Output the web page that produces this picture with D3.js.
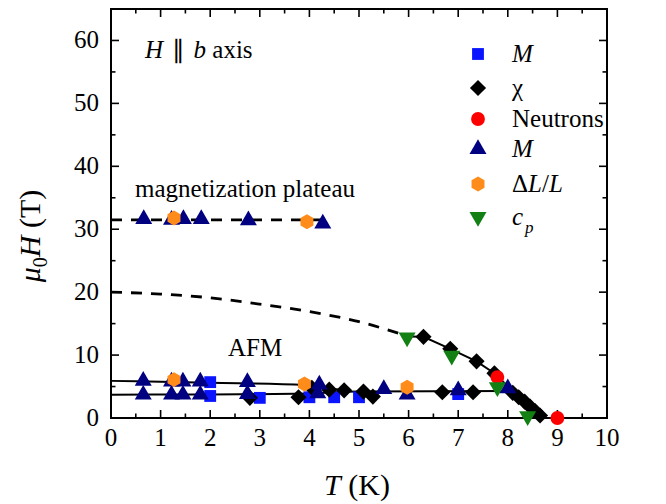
<!DOCTYPE html>
<html lang="en">
<head>
    <meta charset="UTF-8">
    <title>H || b phase diagram</title>
    <style>
        body { margin: 0; background: #fff; }
        svg text { font-family: "Liberation Serif", "Times New Roman", serif; fill: #000; }
        .tick-label { font-size: 25px; }
        .axis-title { font-size: 30px; }
        .note { font-size: 25px; }
        .legend text { font-size: 25px; }
    </style>
</head>
<body>
    <svg width="666" height="504"></svg>

    <script src="https://d3js.org/d3.v7.min.js"></script>
    <script>
        // points are [T (K), mu0H (T)]
        const squaresM = [[2.0, 5.7], [2.0, 3.5], [3.0, 3.2], [4.0, 3.3], [4.5, 3.3], [5.0, 3.3], [7.0, 3.8]];
        const diamondsChi = [[2.8, 3.2], [3.78, 3.3], [4.05, 4.8], [4.4, 4.5], [4.7, 4.4], [5.09, 4.2], [5.28, 3.4],
            [6.68, 4.1], [7.3, 4.1], [6.3, 12.9], [6.84, 11.0], [7.37, 9.0], [7.73, 7.1],
            [8.1, 4.0], [8.22, 3.3], [8.34, 2.6], [8.45, 1.8], [8.55, 1.1], [8.65, 0.4]];
        const circlesNeutrons = [[7.79, 6.5], [9.0, 0.0]];
        const trianglesM = [[0.65, 5.9], [1.22, 5.8], [1.45, 5.8], [1.8, 5.8], [2.75, 5.7], [4.2, 5.3],
            [0.65, 3.7], [1.22, 3.7], [1.45, 3.7], [1.8, 3.7], [2.75, 3.8], [4.17, 3.9],
            [5.5, 4.6], [5.97, 3.7], [7.0, 4.4], [8.0, 4.7],
            [0.66, 31.6], [1.22, 31.5], [1.46, 31.6], [1.82, 31.6], [2.77, 31.4], [4.27, 30.9]];
        const hexagonsDL = [[1.27, 6.1], [3.9, 5.4], [5.97, 4.9], [1.27, 31.8], [3.95, 31.2]];
        const downTrianglesCp = [[5.97, 12.8], [6.87, 9.9], [7.79, 4.9], [8.4, 0.3]];

        const lowerBranchTop = [[0, 5.9], [2, 5.6], [3.9, 5.25], [4.3, 4.8], [4.7, 4.4]];
        const lowerBranchBottom = [[0, 3.7], [2, 3.75], [3.7, 3.85], [5.0, 4.2], [8.0, 4.3]];
        const upperBoundary = [[6.0, 12.95], [6.3, 12.9], [6.84, 11.0], [7.37, 9.0], [7.75, 7.0], [8.0, 5.0], [8.4, 2.3], [8.75, 0]];
        const extrapolated = [[0, 20], [1, 19.7], [2, 19.1], [3, 18.1], [4, 16.9], [5, 15.3], [6.0, 12.95]];
        const plateau = [[0, 31.5], [4.25, 31.5]];

        const xTicks = [0, 1, 2, 3, 4, 5, 6, 7, 8, 9, 10];
        const yTicks = [0, 10, 20, 30, 40, 50, 60];

        const svg = d3.select("svg");
        const plotLeft = 111, plotRight = 607, plotTop = 9, plotBottom = 418;

        const x = d3.scaleLinear().domain([0, 10]).range([plotLeft, plotRight]);
        const y = d3.scaleLinear().domain([0, 65]).range([plotBottom, plotTop]);

        // ticks on all four sides, pointing inwards
        const ax = svg.append("g").attr("class", "axes");
        const xMinor = d3.range(0.5, 10, 1);
        const yMinor = d3.range(5, 65, 10);
        const tickLen = 8, minorLen = 4.5;

        xTicks.concat(xMinor).forEach(v => {
            const len = xMinor.includes(v) ? minorLen : tickLen;
            ax.append("line").attr("x1", x(v)).attr("x2", x(v)).attr("y1", plotBottom).attr("y2", plotBottom - len);
            ax.append("line").attr("x1", x(v)).attr("x2", x(v)).attr("y1", plotTop).attr("y2", plotTop + len);
        });
        yTicks.concat(yMinor).forEach(v => {
            const len = yMinor.includes(v) ? minorLen : tickLen;
            ax.append("line").attr("y1", y(v)).attr("y2", y(v)).attr("x1", plotLeft).attr("x2", plotLeft + len);
            ax.append("line").attr("y1", y(v)).attr("y2", y(v)).attr("x1", plotRight).attr("x2", plotRight - len);
        });
        ax.selectAll("line").attr("stroke", "#000").attr("stroke-width", 1.6);

        ax.append("rect")
            .attr("x", plotLeft).attr("y", plotTop)
            .attr("width", plotRight - plotLeft).attr("height", plotBottom - plotTop)
            .attr("fill", "none").attr("stroke", "#000").attr("stroke-width", 2);

        ax.selectAll(".xl").data(xTicks).enter().append("text")
            .attr("class", "tick-label")
            .attr("x", d => x(d)).attr("y", plotBottom + 28)
            .attr("text-anchor", "middle")
            .text(d => d);

        ax.selectAll(".yl").data(yTicks).enter().append("text")
            .attr("class", "tick-label")
            .attr("x", plotLeft - 12).attr("y", d => y(d) + 8)
            .attr("text-anchor", "end")
            .text(d => d);

        // axis titles
        const xt = svg.append("text").attr("class", "axis-title")
            .attr("x", 357).attr("y", 495).attr("text-anchor", "middle");
        xt.append("tspan").attr("font-style", "italic").text("T");
        xt.append("tspan").text(" (K)");

        const yt = svg.append("text").attr("class", "axis-title")
            .attr("transform", "translate(40,236) rotate(-90)")
            .attr("text-anchor", "middle");
        yt.append("tspan").attr("font-style", "italic").text("μ");
        yt.append("tspan").attr("font-size", "20px").attr("dy", 7).text("0");
        yt.append("tspan").attr("font-style", "italic").attr("dy", -7).text("H");
        yt.append("tspan").text(" (T)");

        // phase boundaries
        const line = d3.line().x(d => x(d[0])).y(d => y(d[1]));
        const curve = d3.line().x(d => x(d[0])).y(d => y(d[1])).curve(d3.curveMonotoneX);
        const lines = svg.append("g").attr("fill", "none").attr("stroke", "#000");
        lines.append("path").attr("d", curve(lowerBranchTop)).attr("stroke-width", 2);
        lines.append("path").attr("d", curve(lowerBranchBottom)).attr("stroke-width", 2);
        lines.append("path").attr("d", line(upperBoundary)).attr("stroke-width", 2);
        lines.append("path").attr("d", curve(extrapolated)).attr("stroke-width", 2.8).attr("stroke-dasharray", "11,9");
        lines.append("path").attr("d", line(plateau)).attr("stroke-width", 2.8).attr("stroke-dasharray", "11,9");

        // marker shapes
        const hexagon = {
            draw(context, size) {
                const r = Math.sqrt(size / (1.5 * Math.sqrt(3)));
                for (let i = 0; i < 6; i++) {
                    const a = Math.PI / 6 + i * Math.PI / 3;
                    if (i === 0) context.moveTo(r * Math.cos(a), r * Math.sin(a));
                    else context.lineTo(r * Math.cos(a), r * Math.sin(a));
                }
                context.closePath();
            }
        };

        const series = [
            { data: squaresM, type: d3.symbolSquare, size: 140, rot: 0, color: "#0a14ff" },
            { data: diamondsChi, type: d3.symbolSquare, size: 130, rot: 45, color: "#000000" },
            { data: circlesNeutrons, type: d3.symbolCircle, size: 150, rot: 0, color: "#ff0000" },
            { data: trianglesM, type: d3.symbolTriangle, size: 125, rot: 0, color: "#000080" },
            { data: hexagonsDL, type: hexagon, size: 145, rot: 0, color: "#ff8c1a" },
            { data: downTrianglesCp, type: d3.symbolTriangle, size: 125, rot: 180, color: "#138013" }
        ];

        series.forEach(s => {
            const sym = d3.symbol().type(s.type).size(s.size);
            svg.append("g").selectAll("path").data(s.data).enter().append("path")
                .attr("d", sym)
                .attr("fill", s.color)
                .attr("transform", d => `translate(${x(d[0])},${y(d[1])}) rotate(${s.rot})`);
        });

        // legend
        const legendRows = [54, 88, 119, 149, 184, 217];
        const legend = svg.append("g").attr("class", "legend");
        series.forEach((s, i) => {
            legend.append("path")
                .attr("d", d3.symbol().type(s.type).size(s.size))
                .attr("fill", s.color)
                .attr("transform", `translate(478,${legendRows[i]}) rotate(${s.rot})`);
        });
        const lt = i => legend.append("text").attr("x", 512).attr("y", legendRows[i] + 8);
        lt(0).append("tspan").attr("font-style", "italic").text("M");
        lt(1).text("χ");
        lt(2).text("Neutrons");
        lt(3).append("tspan").attr("font-style", "italic").text("M");
        const dl = lt(4);
        dl.append("tspan").text("Δ");
        dl.append("tspan").attr("font-style", "italic").text("L");
        dl.append("tspan").text("/");
        dl.append("tspan").attr("font-style", "italic").text("L");
        const cp = lt(5);
        cp.append("tspan").attr("font-style", "italic").text("c");
        cp.append("tspan").attr("font-style", "italic").attr("font-size", "17px").attr("dy", 8).attr("dx", 2).text("p");

        // annotations
        const hb = svg.append("text").attr("class", "note").attr("x", 145).attr("y", 58).attr("font-size", "26px");
        hb.append("tspan").attr("font-style", "italic").text("H");
        hb.append("tspan").attr("dx", 3).text(" ∥ ");
        hb.append("tspan").attr("font-style", "italic").attr("dx", 2).text("b");
        hb.append("tspan").text(" axis");

        svg.append("text").attr("class", "note").attr("x", 135).attr("y", 197).text("magnetization plateau");
        svg.append("text").attr("class", "note").attr("x", 228).attr("y", 356).text("AFM");
    </script>
</body>
</html>
